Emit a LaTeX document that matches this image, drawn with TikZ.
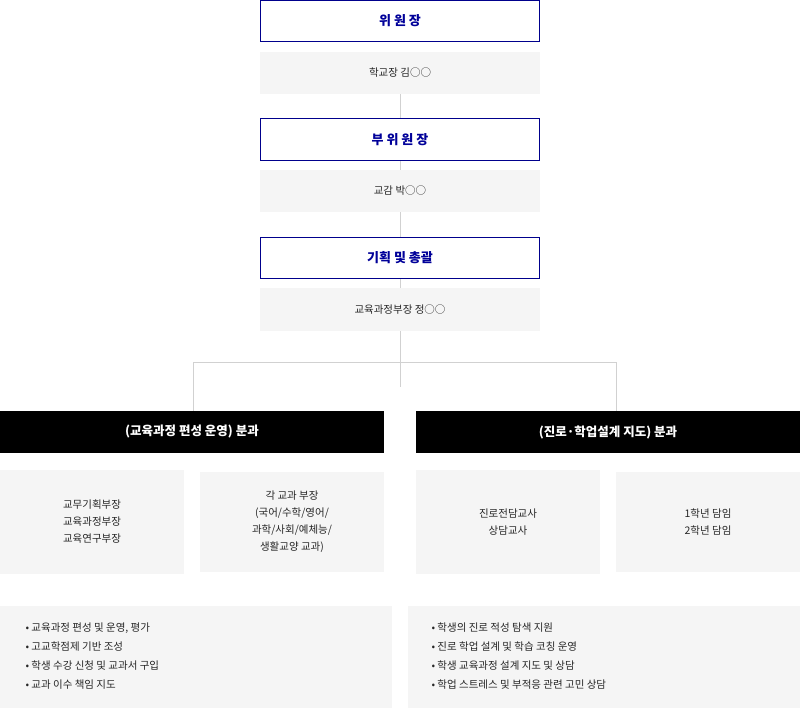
\documentclass[tikz,border=0pt]{standalone}
\usepackage{fontspec}
\setmainfont{Noto Sans CJK KR}
\begin{document}
\begin{tikzpicture}[x=1pt,y=-1pt,
 ttl/.style={draw=blue!55!black,line width=0.8pt,fill=white,font=\fontsize{13}{15}\selectfont\bfseries,text=blue!60!black},
 gry/.style={fill=black!4,draw=none,font=\fontsize{10.5}{17}\selectfont,text=black!85,align=center},
 blk/.style={fill=black,text=white,font=\fontsize{12.5}{15}\selectfont\bfseries},
 ln/.style={draw=black!18,line width=0.8pt},
 bl/.style={font=\fontsize{10.5}{19}\selectfont,text=black!85,align=left,anchor=north west}]
\useasboundingbox (0,0) rectangle (800,708);
\path[ln] (400,94) -- (400,118) (400,161)--(400,170) (400,212)--(400,237) (400,279)--(400,288);
\coordinate (c1) at (400,330); \coordinate (c2) at (400,387);
\coordinate (h1) at (193,362); \coordinate (h2) at (616,362);
\coordinate (l1) at (193,411); \coordinate (r1) at (616,411);
\draw[ln] (c1)--(c2) (h1)--(h2) (h1)--(l1) (h2)--(r1);
\node[ttl,minimum width=279pt,minimum height=41pt] (t1) at (400,21) {위 원 장};
\node[gry,minimum width=280pt,minimum height=42pt] (g1) at (400,73) {학교장 김○○};
\node[ttl,minimum width=279pt,minimum height=42pt] (t2) at (400,139.5) {부 위 원 장};
\node[gry,minimum width=280pt,minimum height=42pt] (g2) at (400,191) {교감 박○○};
\node[ttl,minimum width=279pt,minimum height=41pt] (t3) at (400,258) {기획 및 총괄};
\node[gry,minimum width=280pt,minimum height=43pt] (g3) at (400,309.5) {교육과정부장 정○○};
\node[blk,minimum width=384pt,minimum height=42pt] (b1) at (192,432) {(교육과정 편성 운영) 분과};
\node[blk,minimum width=384pt,minimum height=42pt] (b2) at (608,432) {(진로·학업설계 지도) 분과};
\node[gry,minimum width=184pt,minimum height=104pt] (s1) at (92,522) {교무기획부장\\교육과정부장\\교육연구부장};
\node[gry,minimum width=184pt,minimum height=100pt] (s2) at (292,522) {각 교과 부장\\(국어/수학/영어/\\과학/사회/예체능/\\생활교양 교과)};
\node[gry,minimum width=184pt,minimum height=104pt] (s3) at (508,522) {진로전담교사\\상담교사};
\node[gry,minimum width=184pt,minimum height=100pt] (s4) at (708,522) {1학년 담임\\2학년 담임};
\node[gry,minimum width=392pt,minimum height=102pt] (p1) at (196,657) {};
\node[gry,minimum width=392pt,minimum height=102pt] (p2) at (604,657) {};
\node[bl] (q1) at (22,619) {• 교육과정 편성 및 운영, 평가\\• 고교학점제 기반 조성\\• 학생 수강 신청 및 교과서 구입\\• 교과 이수 책임 지도};
\node[bl] (q2) at (428,619) {• 학생의 진로 적성 탐색 지원\\• 진로 학업 설계 및 학습 코칭 운영\\• 학생 교육과정 설계 지도 및 상담\\• 학업 스트레스 및 부적응 관련 고민 상담};
\end{tikzpicture}
\end{document}
